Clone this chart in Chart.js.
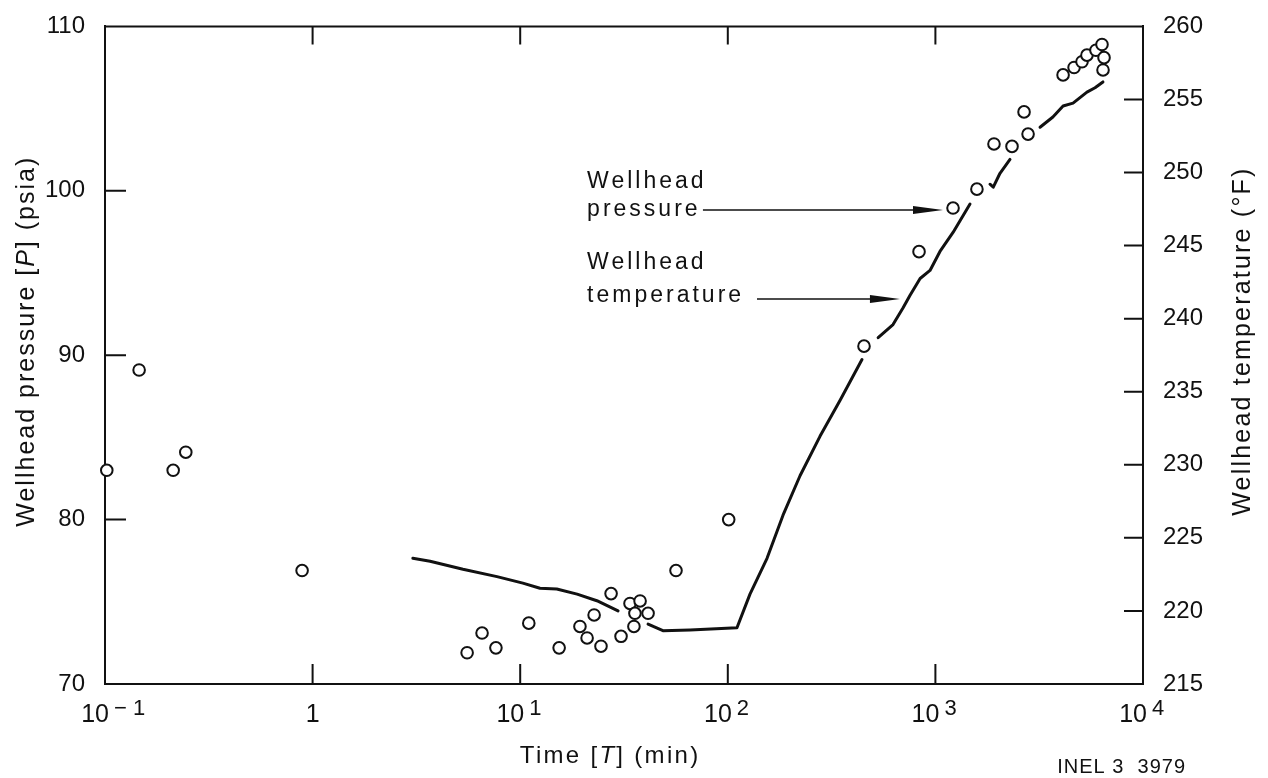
<!DOCTYPE html>
<html lang="en">
<head>
<meta charset="UTF-8">
<title>Wellhead pressure and temperature</title>
<script src="https://cdn.jsdelivr.net/npm/chart.js"></script>
<style>
  html, body { margin: 0; padding: 0; background: #fff; }
  #wrap { width: 1268px; height: 778px; position: relative; }
</style>
</head>
<body>
<div id="wrap"><canvas id="chart"></canvas></div>
<script>
// wellhead pressure readings (open circles), psia, left axis
const pressureTime = [0.102, 0.146, 0.213, 0.245, 0.89,
    5.55, 6.55, 7.64, 11.0, 15.4, 19.4, 21.0, 22.7, 24.5, 27.4, 30.6,
    33.8, 37.8, 35.7, 35.3, 41.3, 56.3, 101,
    453, 834, 1216, 1585, 1915, 2339, 2795, 2673,
    4121, 4656, 5084, 5370, 5936, 6346, 6490, 6418];
const pressurePsia = [83.0, 89.1, 83.0, 84.1, 76.9,
    71.9, 73.1, 72.2, 73.7, 72.2, 73.5, 72.8, 74.2, 72.3, 75.5, 72.9,
    74.9, 75.05, 74.3, 73.5, 74.3, 76.9, 80.0,
    90.55, 96.3, 98.95, 100.1, 102.85, 102.7, 103.45, 104.8,
    107.05, 107.5, 107.85, 108.25, 108.55, 108.9, 108.1, 107.35];

// wellhead temperature trace (solid line), deg F, right axis; null = break in the trace
const tempTime = [3.04, 3.68, 5.30, 7.73, 10.3, 12.45, 15.0, 18.8, 23.4, 29.6,
    35,
    41.3, 48.7, 65.8, 110.7, 127.9, 154.5, 184.5, 222.8, 278, 347, 443,
    490,
    530, 625, 699, 755, 844, 942, 1052, 1216, 1468,
    1650,
    1832, 1900, 2047, 2287,
    2800,
    3192, 3681, 4121, 4603, 5370, 5875, 6412];
const tempF = [223.6, 223.4, 222.85, 222.35, 221.9, 221.55, 221.5, 221.15, 220.7, 220.0,
    null,
    219.1, 218.65, 218.7, 218.85, 221.15, 223.6, 226.55, 229.25, 231.95, 234.4, 237.2,
    null,
    238.7, 239.6, 240.75, 241.6, 242.75, 243.3, 244.6, 245.9, 247.85,
    null,
    249.2, 249.0, 249.95, 250.9,
    null,
    253.1, 253.8, 254.55, 254.75, 255.5, 255.8, 256.2];

// x axis decade labels: base and superscript
const xTickValues = [0.1, 1, 10, 100, 1000, 10000];
const xTickBase = ['10', '1', '10', '10', '10', '10'];
const xTickExp = ['\u2212 1', '', '1', '2', '3', '4'];

const ink = '#111';
const family = '"Liberation Sans", Arial, Helvetica, sans-serif';

// draws a run of text pieces, some italic, with letter spacing
function drawParts(ctx, parts, x, y, size, spacing, align) {
    ctx.letterSpacing = spacing + 'px';
    const fontOf = p => (p[1] ? 'italic ' : '') + size + 'px ' + family;
    const widths = parts.map(p => { ctx.font = fontOf(p); return ctx.measureText(p[0]).width; });
    const total = widths.reduce((a, b) => a + b, 0) - spacing;
    let cx = align === 'center' ? x - total / 2 : align === 'right' ? x - total : x;
    ctx.textAlign = 'left';
    ctx.textBaseline = 'alphabetic';
    parts.forEach((p, i) => {
        ctx.font = fontOf(p);
        ctx.fillText(p[0], cx, y);
        cx += widths[i];
    });
    ctx.letterSpacing = '0px';
}

function drawVertical(ctx, parts, bx, cy, size, spacing) {
    ctx.save();
    ctx.translate(bx, cy);
    ctx.rotate(-Math.PI / 2);
    drawParts(ctx, parts, 0, 0, size, spacing, 'center');
    ctx.restore();
}

function arrow(ctx, x1, x2, y) {
    ctx.beginPath();
    ctx.lineWidth = 1.6;
    ctx.moveTo(x1, y);
    ctx.lineTo(x2 - 20, y);
    ctx.stroke();
    ctx.beginPath();
    ctx.moveTo(x2, y);
    ctx.lineTo(x2 - 30, y - 4);
    ctx.lineTo(x2 - 30, y + 4);
    ctx.closePath();
    ctx.fill();
}

const frame = {
    id: 'frame',
    beforeDatasetsDraw(chart) {
        const {ctx, chartArea: a, scales} = chart;
        ctx.save();
        ctx.strokeStyle = ink;
        ctx.lineWidth = 2;
        ctx.beginPath();
        ctx.moveTo(a.left - 1, a.top);
        ctx.lineTo(a.right + 1, a.top);
        // inward ticks
        xTickValues.slice(1, -1).forEach(v => {
            const px = scales.x.getPixelForValue(v);
            ctx.moveTo(px, a.bottom); ctx.lineTo(px, a.bottom - 20);
            ctx.moveTo(px, a.top); ctx.lineTo(px, a.top + 18);
        });
        scales.y.ticks.forEach(t => {
            if (t.value <= scales.y.min || t.value >= scales.y.max) return;
            const py = scales.y.getPixelForValue(t.value);
            ctx.moveTo(a.left, py); ctx.lineTo(a.left + 21, py);
        });
        scales.y2.ticks.forEach(t => {
            if (t.value <= scales.y2.min || t.value >= scales.y2.max) return;
            const py = scales.y2.getPixelForValue(t.value);
            ctx.moveTo(a.right, py); ctx.lineTo(a.right - 19, py);
        });
        ctx.stroke();
        ctx.restore();
    },
    afterDraw(chart) {
        const {ctx, chartArea: a, scales} = chart;
        const x = scales.x, y = scales.y;
        ctx.save();
        ctx.fillStyle = ink;
        ctx.strokeStyle = ink;

        // decade labels under the x axis
        xTickValues.forEach((v, i) => {
            const px = x.getPixelForValue(v);
            const base = a.bottom + 38;
            if (!xTickExp[i]) {
                drawParts(ctx, [[xTickBase[i], 0]], px, base, 25, 0, 'center');
            } else {
                drawParts(ctx, [[xTickBase[i], 0]], px + 4, base, 25, 0, 'right');
                drawParts(ctx, [[xTickExp[i], 0]], px + 9, base - 7, 22, 0, 'left');
            }
        });

        // axis titles
        const midY = (a.top + a.bottom) / 2 - 13;
        drawParts(ctx, [['Time [', 0], ['T', 1], ['] (min)', 0]], (a.left + a.right) / 2 - 15, a.bottom + 79, 24, 2.3, 'center');
        drawVertical(ctx, [['Wellhead pressure [', 0], ['P', 1], ['] (psia)', 0]], 34, midY, 25, 2);
        drawVertical(ctx, [['Wellhead temperature (\u00b0F)', 0]], 1250, midY, 25, 2.2);

        // callouts
        const lx = x.getPixelForValue(21.0);
        drawParts(ctx, [['Wellhead', 0]], lx, y.getPixelForValue(100.15), 23, 3, 'left');
        drawParts(ctx, [['pressure', 0]], lx, y.getPixelForValue(98.47), 23, 3, 'left');
        arrow(ctx, x.getPixelForValue(75.9), x.getPixelForValue(1088), y.getPixelForValue(98.83));
        drawParts(ctx, [['Wellhead', 0]], lx, y.getPixelForValue(95.23), 23, 3, 'left');
        drawParts(ctx, [['temperature', 0]], lx, y.getPixelForValue(93.24), 23, 3, 'left');
        arrow(ctx, x.getPixelForValue(138.2), x.getPixelForValue(675), y.getPixelForValue(93.42));

        drawParts(ctx, [['INEL 3  3979', 0]], 1185, 773, 20, 1, 'right');
        ctx.restore();
    }
};

new Chart(document.getElementById('chart'), {
    type: 'scatter',
    data: {
        datasets: [{
            label: 'Wellhead pressure',
            data: pressureTime.map((t, i) => ({x: t, y: pressurePsia[i]})),
            yAxisID: 'y',
            pointRadius: 5.8,
            pointBorderWidth: 2,
            pointBackgroundColor: '#fff',
            pointBorderColor: ink,
            clip: false
        }, {
            label: 'Wellhead temperature',
            data: tempTime.map((t, i) => ({x: t, y: tempF[i]})),
            yAxisID: 'y2',
            showLine: true,
            spanGaps: false,
            pointRadius: 0,
            borderColor: ink,
            borderWidth: 3,
            tension: 0,
            borderCapStyle: 'round',
            borderJoinStyle: 'round'
        }]
    },
    options: {
        responsive: true,
        maintainAspectRatio: false,
        animation: false,
        layout: {padding: {top: 18, left: 0, right: 0, bottom: 0}},
        plugins: {legend: {display: false}, tooltip: {enabled: false}},
        scales: {
            x: {
                type: 'logarithmic',
                min: 0.1,
                max: 10000,
                grid: {display: false},
                border: {color: ink, width: 2},
                ticks: {display: false},
                afterFit: s => { s.height = 94; }
            },
            y: {
                position: 'left',
                min: 70,
                max: 110,
                grid: {display: false},
                border: {color: ink, width: 2},
                ticks: {stepSize: 10, color: ink, padding: 12, font: {family: family, size: 24}},
                afterFit: s => { s.width = 105; }
            },
            y2: {
                position: 'right',
                min: 215,
                max: 260,
                grid: {display: false},
                border: {color: ink, width: 2},
                ticks: {stepSize: 5, color: ink, padding: 12, font: {family: family, size: 24}},
                afterFit: s => { s.width = 125; }
            }
        }
    },
    plugins: [frame]
});
</script>
</body>
</html>
